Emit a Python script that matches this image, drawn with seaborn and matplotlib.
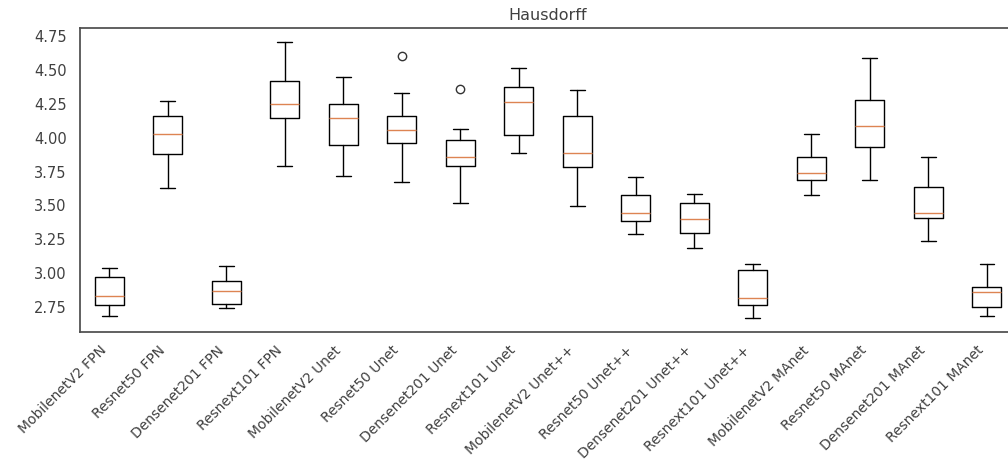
import matplotlib
matplotlib.use("Agg")
import matplotlib.pyplot as plt
import seaborn as sns

# box statistics (Hausdorff distance per model)
models = ["MobilenetV2 FPN", "Resnet50 FPN", "Densenet201 FPN", "Resnext101 FPN",
          "MobilenetV2 Unet", "Resnet50 Unet", "Densenet201 Unet", "Resnext101 Unet",
          "MobilenetV2 Unet++", "Resnet50 Unet++", "Densenet201 Unet++", "Resnext101 Unet++",
          "MobilenetV2 MAnet", "Resnet50 MAnet", "Densenet201 MAnet", "Resnext101 MAnet"]
whislo = [2.686, 3.626, 2.742, 3.793, 3.717, 3.675, 3.518, 3.888,
          3.494, 3.287, 3.189, 2.669, 3.577, 3.690, 3.238, 2.686]
q1 = [2.769, 3.881, 2.777, 4.146, 3.947, 3.962, 3.791, 4.021,
      3.783, 3.385, 3.297, 2.767, 3.690, 3.930, 3.410, 2.750]
med = [2.835, 4.028, 2.868, 4.245, 4.146, 4.056, 3.859, 4.262,
       3.888, 3.447, 3.402, 2.818, 3.741, 4.087, 3.444, 2.865]
q3 = [2.975, 4.161, 2.941, 4.419, 4.245, 4.161, 3.980, 4.374,
      4.161, 3.577, 3.518, 3.025, 3.857, 4.279, 3.634, 2.897]
whishi = [3.042, 4.269, 3.056, 4.706, 4.448, 4.326, 4.063, 4.514,
          4.352, 3.707, 3.584, 3.071, 4.028, 4.588, 3.857, 3.071]
fliers = [[], [], [], [], [], [4.598], [4.360], [],
          [], [], [], [], [], [], [], []]
yticks = [2.75, 3.00, 3.25, 3.50, 3.75, 4.00, 4.25, 4.50, 4.75]

sns.set_theme(style="white", context="notebook",
              rc={"axes.edgecolor": ".3", "text.color": ".25",
                  "xtick.color": ".25", "ytick.color": ".25"})
plt.rcParams['font.family'] = ['DejaVu Sans']

stats = []
for i, name in enumerate(models):
    stats.append({"label": name, "whislo": whislo[i], "q1": q1[i], "med": med[i],
                  "q3": q3[i], "whishi": whishi[i], "fliers": fliers[i]})

fig, ax = plt.subplots(figsize=(10.08, 4.67), dpi=100)
fig.subplots_adjust(left=0.0794, right=1.008, top=0.940, bottom=0.289)

ax.bxp(stats, showfliers=True,
       flierprops=dict(marker="o", markerfacecolor="none", markeredgecolor=".2", markersize=6))

ax.set_title("Hausdorff", fontsize=11.5)
ax.set_yticks(yticks)
ax.set_yticklabels([f"{t:.2f}" for t in yticks])
ax.tick_params(axis="y", labelsize=10.5)
ax.tick_params(axis="x", pad=2)
plt.setp(ax.get_xticklabels(), rotation=45, ha="right", fontsize=10)

plt.savefig("out.png", dpi=100)
